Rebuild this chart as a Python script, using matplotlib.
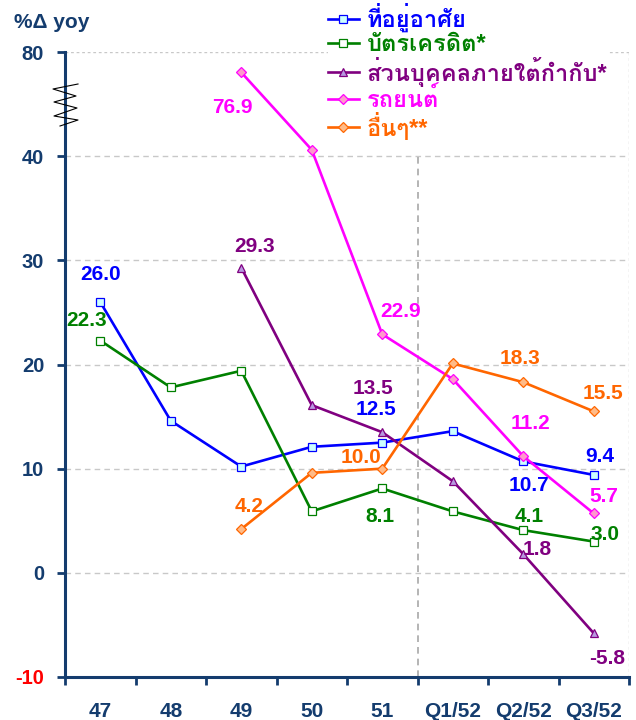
import numpy as np
import matplotlib
matplotlib.use('Agg')
import matplotlib.pyplot as plt
from matplotlib.lines import Line2D

plt.rcParams['font.family'] = ['Liberation Sans', 'Loma']
plt.rcParams['font.weight'] = 'bold'

nan = np.nan
cats = ['47', '48', '49', '50', '51', 'Q1/52', 'Q2/52', 'Q3/52']
housing = [26.0, 14.6, 10.2, 12.1, 12.5, 13.6, 10.7, 9.4]
credit = [22.3, 17.8, 19.4, 5.9, 8.1, 5.9, 4.1, 3.0]
personal = [nan, nan, 29.3, 16.1, 13.5, 8.8, 1.8, -5.8]
car = [nan, nan, 76.9, 42.8, 22.9, 18.6, 11.2, 5.7]
others = [nan, nan, 4.2, 9.6, 10.0, 20.1, 18.3, 15.5]
names = ['ที่อยู่อาศัย', 'บัตรเครดิต*', 'ส่วนบุคคลภายใต้กำกับ*', 'รถยนต์', 'อื่นๆ**']

ytick_vals = [-10, 0, 10, 20, 30, 40, 80]

# axis is broken above 40: squeeze 40..80 into a short span
def brk(v):
    v = np.asarray(v, dtype=float)
    return np.where(v > 40, 40 + (v - 40) * 0.218, v)

def brk_tick(v):
    return v if v <= 40 else 50

navy = '#143C6E'
series = [
    (housing, '#0000FF', 's', '#CCFFFF', [(0, 0, 27), (4, -6, 33), (6, 6, -24), (7, 6, 18)]),
    (credit, '#008000', 's', '#FFFFFF', [(0, -14, 20), (4, -2, -28), (6, 6, 14), (7, 11, 7)]),
    (personal, '#800080', '^', '#B898E0', [(2, 13, 21), (4, -9, 44), (6, 14, 5), (7, 13, -25)]),
    (car, '#FF00FF', 'D', '#FF99CC', [(2, -9, -35), (4, 18, 23), (6, 7, 33), (7, 10, 17)]),
    (others, '#FF6600', 'D', '#FFBB88', [(2, 8, 23), (4, -21, 11), (6, -3, 24), (7, 9, 18)]),
]

fig = plt.figure(figsize=(6.36, 7.2), dpi=100)
ax = fig.add_axes([65 / 636, 1 - 677 / 720, 564 / 636, 625 / 720])
x = np.arange(len(cats))

for (vals, col, mk, fc, labs), name in zip(series, names):
    ms = 6 if mk == '^' else (5 if mk == 'D' else 5.5)
    ax.plot(x, brk(vals), color=col, lw=1.9, marker=mk, ms=ms, mfc=fc, mec=col,
            mew=0.9, label=name, zorder=3)
    for i, dx, dy in labs:
        ax.annotate(f'{vals[i]:.1f}', (x[i], brk(vals[i])), xytext=(dx * 0.72, dy * 0.72),
                    textcoords='offset points', ha='center', va='center',
                    color=col, fontsize=15, fontweight='bold', zorder=5)

ax.set_xlim(-0.5, len(cats) - 0.5)
ax.set_ylim(-10, 50)

# grid
for v in ytick_vals[1:-1]:
    ax.axhline(v, color='#C8C8C8', lw=1, ls=(0, (4, 3)), zorder=1)
ax.axhline(50, color='#C8C8C8', lw=1, ls=(0, (2, 2)), zorder=1)
ax.axvline(len(cats) - 0.5, color='#C8C8C8', lw=1, ls=(0, (2, 2)), zorder=1)
ax.plot([4.5, 4.5], [-10, 40], color='#A8A8A8', lw=1.2, ls=(0, (4, 3)), zorder=1)

for s in ['top', 'right']:
    ax.spines[s].set_visible(False)
for s in ['left', 'bottom']:
    ax.spines[s].set_color(navy)
    ax.spines[s].set_linewidth(2.2)

ax.set_yticks([brk_tick(v) for v in ytick_vals])
ax.set_yticklabels([str(v) for v in ytick_vals])
ax.tick_params(axis='y', direction='out', length=6, width=2, color=navy, pad=9,
               labelsize=14.5, labelcolor=navy)
for t in ax.get_yticklabels():
    t.set_fontweight('bold')
ax.get_yticklabels()[0].set_color('#FF0000')

ax.set_xticks(np.arange(len(cats) + 1) - 0.5)
ax.set_xticklabels([])
ax.set_xticks(x, minor=True)
ax.set_xticklabels(cats, minor=True)
ax.tick_params(axis='x', which='major', direction='out', length=6, width=2, color=navy)
ax.tick_params(axis='x', which='minor', length=0, pad=18, labelsize=15, labelcolor=navy)
for t in ax.get_xticklabels(minor=True):
    t.set_fontweight('bold')

# zigzag break mark on the y axis
zx = np.array([78, 53, 76, 54, 77, 54, 78, 60]) / 636
zy = 1 - np.array([84, 89, 96, 102, 108, 116, 120, 126]) / 720
fig.add_artist(Line2D(zx, zy, color='black', lw=0.8))

fig.text(14 / 636, 1 - 22 / 720, '%\u0394 yoy', color=navy, fontsize=15,
         fontweight='bold', va='center', ha='left')

leg = ax.legend(loc='upper left', bbox_to_anchor=(328 / 636, 1 - 3 / 720),
                bbox_transform=fig.transFigure, frameon=True, fontsize=17,
                handlelength=1.3, handletextpad=0.35, labelspacing=0.025,
                borderpad=0.0, borderaxespad=0, labelcolor='linecolor')
leg.get_frame().set_facecolor('white')
leg.get_frame().set_edgecolor('none')
leg.get_frame().set_alpha(1)
leg.set_zorder(6)
for t in leg.get_texts():
    t.set_fontweight('bold')

fig.savefig('out.png', dpi=100)
